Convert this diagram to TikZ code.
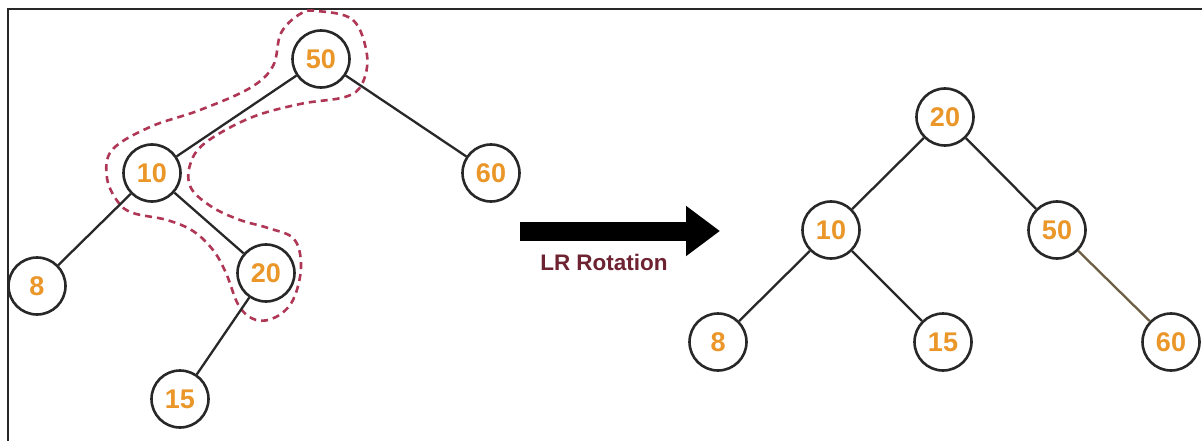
\documentclass[tikz,border=0pt]{standalone}
\usepackage{fontspec}
\setmainfont{Liberation Sans}
\usetikzlibrary{arrows.meta}
\definecolor{numor}{RGB}{234,150,40}
\definecolor{ringc}{RGB}{40,40,40}
\definecolor{blobc}{RGB}{175,55,85}
\definecolor{labc}{RGB}{110,35,50}
\definecolor{brownedge}{RGB}{110,95,70}
\begin{document}
\begin{tikzpicture}[x=1pt,y=-1pt,
  tnode/.style={circle,draw=ringc,line width=2.6pt,fill=white,minimum size=57pt,inner sep=0pt,
    text=numor,font=\fontsize{27}{27}\selectfont\bfseries},
  tedge/.style={draw=ringc,line width=2.3pt},
  blob/.style={draw=blobc,line width=2.6pt,dash pattern=on 7pt off 5pt}]
\useasboundingbox (0,0) rectangle (1202,441);
\fill[white] (0,0) rectangle (1202,441);
\draw[ringc,line width=2pt] (1202,9) -- (8,9) -- (8,441);
% dashed outline
\draw[blob] plot[smooth cycle,tension=0.6] coordinates {
  (317,11) (353,20) (367,55) (362,84) (345,97) (300,104) (250,118) (205,143)
  (190,165) (191,188) (212,207) (240,220) (268,228) (294,239) (301,267)
  (293,300) (276,317) (256,320) (239,306) (226,273) (213,250) (193,231)
  (167,220) (133,213) (118,202) (107,178) (112,150) (150,127) (200,110)
  (250,88) (273,66) (281,33) (300,14)};
% left tree
\node[tnode] (a50) at (321,59) {50};
\node[tnode] (a10) at (152,173) {10};
\node[tnode] (a60) at (491,173) {60};
\node[tnode] (a8) at (37,286) {8};
\node[tnode] (a20) at (266,273) {20};
\node[tnode] (a15) at (180,399) {15};
\draw[tedge] (a50) -- (a10);
\draw[tedge] (a50) -- (a60);
\draw[tedge] (a10) -- (a8);
\draw[tedge] (a10) -- (a20);
\draw[tedge] (a20) -- (a15);
% right tree
\node[tnode] (b20) at (945,117) {20};
\node[tnode] (b10) at (831,230) {10};
\node[tnode] (b50) at (1057,230) {50};
\node[tnode] (b8) at (718,342) {8};
\node[tnode] (b15) at (943,342) {15};
\node[tnode] (b60) at (1171,342) {60};
\draw[tedge] (b20) -- (b10);
\draw[tedge] (b20) -- (b50);
\draw[tedge] (b10) -- (b8);
\draw[tedge] (b10) -- (b15);
\draw[draw=brownedge,line width=2.3pt] (b50) -- (b60);
% arrow
\coordinate (arS) at (520,231);
\coordinate (arE) at (720,231);
\draw[line width=19pt,-{Triangle[length=34pt,width=48pt]}] (arS) -- (arE);
\node[text=labc,font=\fontsize{22.5}{22.5}\selectfont\bfseries] (lab) at (604,262) {LR Rotation};
\end{tikzpicture}
\end{document}
